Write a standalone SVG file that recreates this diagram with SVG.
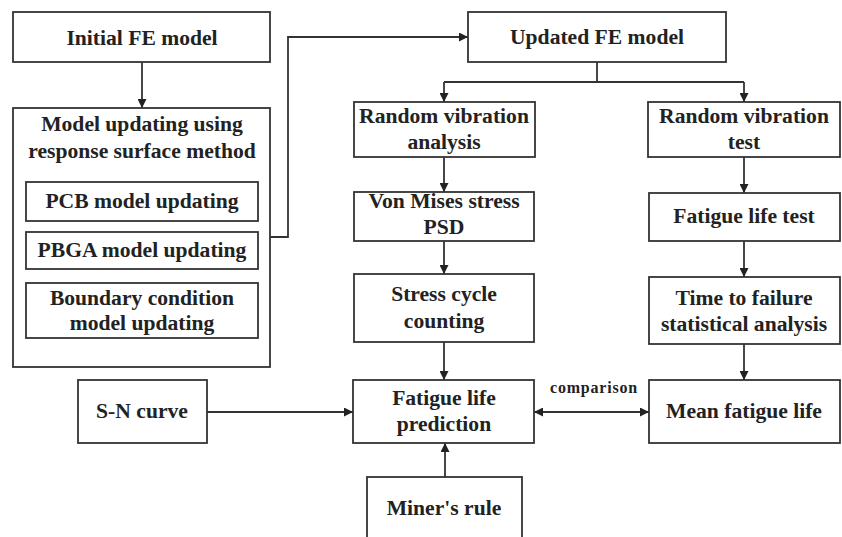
<svg xmlns="http://www.w3.org/2000/svg" width="842" height="537" viewBox="0 0 842 537">
<style>
.box{fill:#fff;stroke:#333;stroke-width:1.8}
.t{font-family:"Liberation Serif","Times New Roman",serif;font-weight:bold;font-size:21.6px;fill:#222;text-anchor:middle}
.s{font-family:"Liberation Serif","Times New Roman",serif;font-weight:bold;font-size:16px;letter-spacing:0.8px;fill:#222;text-anchor:middle}
.c{fill:none;stroke:#333;stroke-width:1.8}
</style>
<defs>
<marker id="ah" viewBox="0 0 10 10" refX="10" refY="5" markerWidth="9" markerHeight="9" markerUnits="userSpaceOnUse" orient="auto-start-reverse">
<path d="M0,0 L10,5 L0,10 z" fill="#222"/>
</marker>
</defs>
<rect width="842" height="537" fill="#fff"/>
<g id="connectors">
<path class="c" d="M142,62 V108" marker-end="url(#ah)"/>
<path class="c" d="M270,237 H288 V37 H468" marker-end="url(#ah)"/>
<path class="c" d="M597,62 V82"/>
<path class="c" d="M444,82 H744"/>
<path class="c" d="M444,82 V102" marker-end="url(#ah)"/>
<path class="c" d="M744,82 V102" marker-end="url(#ah)"/>
<path class="c" d="M444,157 V192" marker-end="url(#ah)"/>
<path class="c" d="M444,241 V274" marker-end="url(#ah)"/>
<path class="c" d="M444,342 V380" marker-end="url(#ah)"/>
<path class="c" d="M744,157 V193" marker-end="url(#ah)"/>
<path class="c" d="M744,241 V277" marker-end="url(#ah)"/>
<path class="c" d="M744,344 V380" marker-end="url(#ah)"/>
<path class="c" d="M207,412 H353" marker-end="url(#ah)"/>
<path class="c" d="M534,412 H649" marker-start="url(#ah)" marker-end="url(#ah)"/>
<path class="c" d="M445,477 V443" marker-end="url(#ah)"/>
<text class="s" x="594" y="393">comparison</text>
</g>
<g id="initial">
<rect class="box" x="13" y="12" width="257" height="50"/>
<text class="t" x="142" y="45">Initial FE model</text>
</g>
<g id="model-updating">
<rect class="box" x="13" y="108" width="257" height="259"/>
<text class="t" x="142" y="131">Model updating using</text>
<text class="t" x="142" y="158">response surface method</text>
</g>
<g id="pcb">
<rect class="box" x="26" y="182" width="232" height="39"/>
<text class="t" x="142" y="208">PCB model updating</text>
</g>
<g id="pbga">
<rect class="box" x="26" y="232" width="232" height="37"/>
<text class="t" x="142" y="257">PBGA model updating</text>
</g>
<g id="boundary">
<rect class="box" x="26" y="283" width="232" height="55"/>
<text class="t" x="142" y="305">Boundary condition</text>
<text class="t" x="142" y="330">model updating</text>
</g>
<g id="updated">
<rect class="box" x="468" y="12" width="258" height="50"/>
<text class="t" x="597" y="44">Updated FE model</text>
</g>
<g id="rva">
<rect class="box" x="354" y="102" width="181" height="55"/>
<text class="t" x="444" y="123">Random vibration</text>
<text class="t" x="444" y="149">analysis</text>
</g>
<g id="rvt">
<rect class="box" x="648" y="102" width="192" height="55"/>
<text class="t" x="744" y="123">Random vibration</text>
<text class="t" x="744" y="149">test</text>
</g>
<g id="vonmises">
<rect class="box" x="354" y="192" width="180" height="49"/>
<text class="t" x="444" y="208">Von Mises stress</text>
<text class="t" x="444" y="234">PSD</text>
</g>
<g id="stress-cycle">
<rect class="box" x="354" y="274" width="180" height="68"/>
<text class="t" x="444" y="301">Stress cycle</text>
<text class="t" x="444" y="328">counting</text>
</g>
<g id="fatigue-test">
<rect class="box" x="649" y="193" width="191" height="48"/>
<text class="t" x="744" y="223">Fatigue life test</text>
</g>
<g id="time-to-failure">
<rect class="box" x="649" y="277" width="191" height="67"/>
<text class="t" x="744" y="305">Time to failure</text>
<text class="t" x="744" y="331">statistical analysis</text>
</g>
<g id="sn">
<rect class="box" x="78" y="380" width="129" height="63"/>
<text class="t" x="142" y="418">S-N curve</text>
</g>
<g id="prediction">
<rect class="box" x="353" y="380" width="181" height="63"/>
<text class="t" x="444" y="405">Fatigue life</text>
<text class="t" x="444" y="431">prediction</text>
</g>
<g id="mean">
<rect class="box" x="649" y="380" width="191" height="63"/>
<text class="t" x="744" y="418">Mean fatigue life</text>
</g>
<g id="miner">
<rect class="box" x="367" y="477" width="155" height="70"/>
<text class="t" x="444" y="515">Miner's rule</text>
</g>
</svg>
